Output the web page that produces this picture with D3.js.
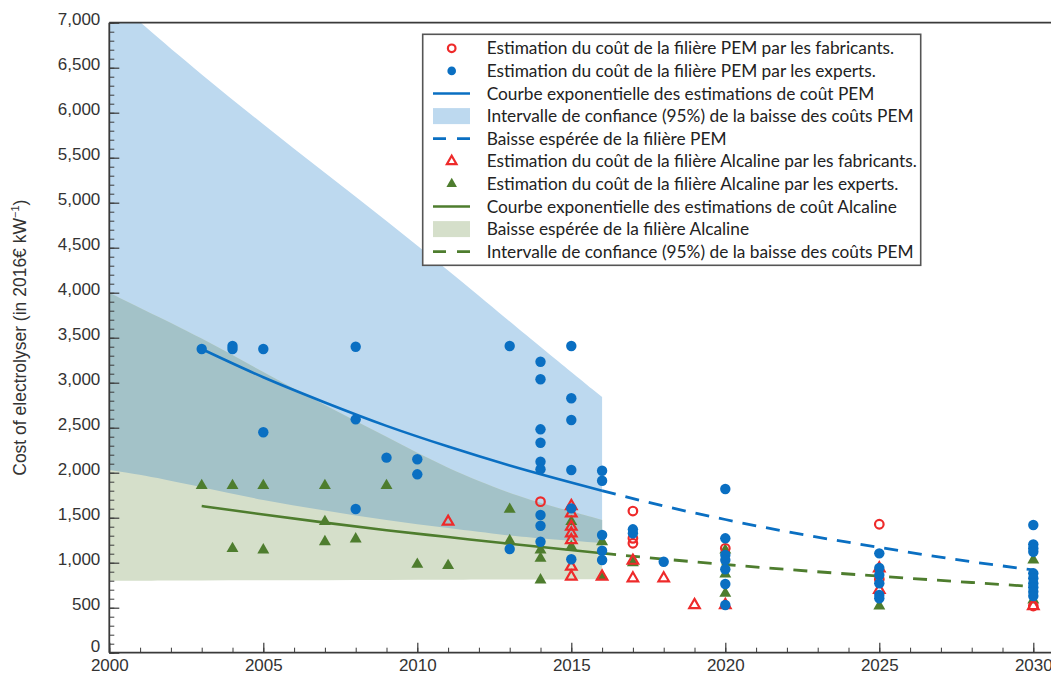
<!DOCTYPE html>
<html><head><meta charset="utf-8">
<script src="https://cdn.jsdelivr.net/npm/d3@7"></script>
<style>
html,body{margin:0;padding:0;background:#fff;}
svg{display:block;}
</style></head>
<body><svg id="c" width="1051" height="675"></svg>
<script>
// ---------- DATA ----------
const yTicks = [0,500,1000,1500,2000,2500,3000,3500,4000,4500,5000,5500,6000,6500,7000];
const xTicks = [2000,2005,2010,2015,2020,2025,2030];

// PEM, manufacturers' estimates (red open circles)
const pemManufacturers = [[2014,1678],[2017,1574],[2017,1271],[2017,1216],[2020,1160],[2025,1427],[2025,816],[2030,519]];
// PEM, experts' estimates (blue dots)
const pemExperts = [
  [2003,3374],[2004,3408],[2004,3374],[2005,3374],[2005,2449],
  [2008,3400],[2008,2593],[2008,1597],[2009,2167],[2010,2149],[2010,1982],
  [2013,3408],[2013,1152],
  [2014,3233],[2014,3038],[2014,2482],[2014,2333],[2014,2122],[2014,2038],[2014,1530],[2014,1411],[2014,1233],
  [2015,3408],[2015,2827],[2015,2586],[2015,2030],[2015,1604],[2015,1038],
  [2016,2022],[2016,1911],[2016,1308],[2016,1133],[2016,1030],
  [2017,1371],[2017,1327],[2018,1011],
  [2020,1819],[2020,1271],[2020,1086],[2020,1030],[2020,927],[2020,763],[2020,530],
  [2025,1104],[2025,941],[2025,863],[2025,771],[2025,641],[2025,604],
  [2030,1419],[2030,1204],[2030,1160],[2030,1122],[2030,882],[2030,827],[2030,771],[2030,727],[2030,678],[2030,630]
];
// Alkaline, manufacturers' estimates (red open triangles)
const alkManufacturers = [[2011,1456],[2015,1630],[2015,1549],[2015,1400],[2015,1327],[2015,1252],[2015,956],[2015,845],
  [2016,845],[2017,1022],[2017,827],[2018,827],[2019,530],[2020,530],[2025,938],[2025,697],[2030,519]];
// Alkaline, experts' estimates (green triangles)
const alkExperts = [[2003,1856],[2004,1856],[2004,1156],[2005,1856],[2005,1141],[2007,1856],[2007,1456],[2007,1233],
  [2008,1263],[2009,1856],[2010,982],[2011,967],[2013,1593],[2013,1244],[2014,1141],[2014,1049],[2014,808],
  [2015,1456],[2015,1178],[2016,1233],[2016,845],[2017,1000],[2020,1140],[2020,874],[2020,660],[2025,519],[2030,1030],[2030,586]];

// Fitted exponential curves
const pemFitYears   = [2003,2005,2007,2009,2011,2013,2016];
const pemFitCost    = [3374,3060,2780,2520,2290,2080,1800];
const pemTrendYears = [2016,2018,2020,2022,2025,2028,2030];
const pemTrendCost  = [1800,1630,1480,1345,1170,1010,920];
const alkFitYears   = [2003,2005,2007,2009,2011,2013,2016];
const alkFitCost    = [1630,1535,1445,1360,1285,1210,1105];
const alkTrendYears = [2016,2018,2020,2022,2025,2028,2030];
const alkTrendCost  = [1105,1040,980,925,850,780,735];

// Confidence bands 2000-2016
const bandYears   = [2000,2001,2003,2005,2007,2009,2011,2013,2014,2016];
const pemUpper    = [7320,7000,6420,5870,5330,4800,4250,3680,3400,2840];
const pemLower    = [2030,1980,1840,1690,1580,1470,1385,1300,1270,1220];
const alkUpper    = [4000,3830,3500,3115,2750,2400,2040,1770,1665,1475];
const alkLower    = [800,800,802,804,806,808,810,812,814,818];

const legendLabels = [
  "Estimation du coût de la filière PEM par les fabricants.",
  "Estimation du coût de la filière PEM par les experts.",
  "Courbe exponentielle des estimations de coût PEM",
  "Intervalle de confiance (95%) de la baisse des coûts PEM",
  "Baisse espérée de la filière PEM",
  "Estimation du coût de la filière Alcaline par les fabricants.",
  "Estimation du coût de la filière Alcaline par les experts.",
  "Courbe exponentielle des estimations de coût Alcaline",
  "Baisse espérée de la filière Alcaline",
  "Intervalle de confiance (95%) de la baisse des coûts PEM"
];

// ---------- STYLE ----------
const BLUE = "#0a6fc2", GREEN = "#4e7d2e", RED = "#ee2a2a";
const BAND_BLUE = "#bdd9ef", BAND_GREEN = "#d5dfca", BAND_TEAL = "#a3c2c8";
const AXIS = "#3a3a3a";

const svg = d3.select("#c");
const L = 109.3, R = 1064.1, T = 22.7, B = 652.7;
const x = d3.scaleLinear().domain([2000, 2031]).range([L, R]);
const y = d3.scaleLinear().domain([0, 7000]).range([B, T]);

svg.append("clipPath").attr("id","plot").append("rect")
  .attr("x", L).attr("y", T).attr("width", R - L).attr("height", B - T);
const plot = svg.append("g").attr("clip-path","url(#plot)");

// bands
const idx = bandYears.map((d,i)=>i);
const band = (lo, hi) => d3.area().x(i=>x(bandYears[i])).y0(i=>y(lo[i])).y1(i=>y(hi[i])).curve(d3.curveBasis);
plot.append("path").attr("d", band(pemLower, pemUpper)(idx)).attr("fill", BAND_BLUE);
plot.append("path").attr("d", band(alkLower, alkUpper)(idx)).attr("fill", BAND_GREEN);
plot.append("path").attr("d", band(pemLower, alkUpper)(idx)).attr("fill", BAND_TEAL);

// fit lines
const line = (ys, vs) => d3.line().x(i=>x(ys[i])).y(i=>y(vs[i])).curve(d3.curveMonotoneX)(ys.map((d,i)=>i));
plot.append("path").attr("d", line(pemFitYears, pemFitCost)).attr("fill","none").attr("stroke",BLUE).attr("stroke-width",2.6);
plot.append("path").attr("d", line(pemTrendYears, pemTrendCost)).attr("fill","none").attr("stroke",BLUE).attr("stroke-width",2.8).attr("stroke-dasharray","14,10");
plot.append("path").attr("d", line(alkFitYears, alkFitCost)).attr("fill","none").attr("stroke",GREEN).attr("stroke-width",2.6);
plot.append("path").attr("d", line(alkTrendYears, alkTrendCost)).attr("fill","none").attr("stroke",GREEN).attr("stroke-width",2.8).attr("stroke-dasharray","14,10");

// markers
const tri = d3.symbol().type(d3.symbolTriangle).size(62)();
const triO = d3.symbol().type(d3.symbolTriangle).size(48)();
plot.append("g").selectAll("path").data(alkExperts).join("path")
  .attr("d", tri).attr("transform", d=>`translate(${x(d[0])},${y(d[1])})`).attr("fill", GREEN);
plot.append("g").selectAll("path").data(alkManufacturers).join("path")
  .attr("d", triO).attr("transform", d=>`translate(${x(d[0])},${y(d[1])})`).attr("fill","none").attr("stroke",RED).attr("stroke-width",2.2);
plot.append("g").selectAll("circle").data(pemManufacturers).join("circle")
  .attr("cx", d=>x(d[0])).attr("cy", d=>y(d[1])).attr("r",4.3).attr("fill","none").attr("stroke",RED).attr("stroke-width",2.2);
plot.append("g").selectAll("circle").data(pemExperts).join("circle")
  .attr("cx", d=>x(d[0])).attr("cy", d=>y(d[1])).attr("r",5.2).attr("fill",BLUE);

// axes
const font = "'Liberation Sans', Arial, sans-serif";
const yMinor = d3.range(0, 7001, 100);
const xMinor = d3.range(2000, 2031, 1);
svg.append("g").attr("transform",`translate(${L},0)`)
  .call(d3.axisLeft(y).tickValues(yMinor).tickSize(-5).tickFormat(""))
  .call(g=>g.selectAll("line").attr("stroke",AXIS)).call(g=>g.select(".domain").remove());
svg.append("g").attr("transform",`translate(0,${B})`)
  .call(d3.axisBottom(x).tickValues(xMinor).tickSize(-5).tickFormat(""))
  .call(g=>g.selectAll("line").attr("stroke",AXIS)).call(g=>g.select(".domain").remove());
const ya = svg.append("g").attr("transform",`translate(${L},0)`)
  .call(d3.axisLeft(y).tickValues(yTicks).tickSize(-10).tickPadding(9).tickFormat(d3.format(",")));
const xa = svg.append("g").attr("transform",`translate(0,${B})`)
  .call(d3.axisBottom(x).tickValues(xTicks).tickSize(-10).tickPadding(6).tickFormat(d3.format("d")));
[ya, xa].forEach(g=>{
  g.selectAll("line").attr("stroke",AXIS).attr("stroke-width",1.2);
  g.select(".domain").remove();
  g.selectAll("text").attr("font-family",font).attr("font-size",17).attr("fill","#333");
});
ya.selectAll("text").attr("dy","0.1em");
ya.selectAll(".tick").filter(d=>d===0).select("text").attr("dy","-0.1em");
// frame lines
svg.append("line").attr("x1",L).attr("x2",L).attr("y1",T).attr("y2",B).attr("stroke",AXIS).attr("stroke-width",1.8);
svg.append("line").attr("x1",L).attr("x2",R).attr("y1",B).attr("y2",B).attr("stroke",AXIS).attr("stroke-width",1.8);
svg.append("line").attr("x1",L).attr("x2",R).attr("y1",T).attr("y2",T).attr("stroke",AXIS).attr("stroke-width",1.8);

// y title
const yt = svg.append("text").attr("transform",`translate(26,${(T+B)/2}) rotate(-90)`)
  .attr("text-anchor","middle").attr("font-family",font).attr("font-size",17.5).attr("fill","#333");
yt.append("tspan").text("Cost of electrolyser (in 2016€ kW");
yt.append("tspan").attr("dy",-7).attr("font-size",11).text("−1");
yt.append("tspan").attr("dy",7).text(")");

// legend
const lg = svg.append("g");
const lx = 422.7, ly = 34.3, lw = 498, lh = 231;
lg.append("rect").attr("x",lx).attr("y",ly).attr("width",lw).attr("height",lh)
  .attr("fill","#fff").attr("stroke","#555").attr("stroke-width",1.6);
const row0 = 48.3, dy = 22.6, sx = 451.7, tx = 486.7;
legendLabels.forEach((lab,i)=>{
  const cy = row0 + i*dy;
  const g = lg.append("g");
  if(i===0) g.append("circle").attr("cx",sx).attr("cy",cy).attr("r",3.8).attr("fill","none").attr("stroke",RED).attr("stroke-width",2.2);
  if(i===1) g.append("circle").attr("cx",sx).attr("cy",cy).attr("r",4.3).attr("fill",BLUE);
  if(i===2||i===7) g.append("line").attr("x1",433).attr("x2",470).attr("y1",cy).attr("y2",cy).attr("stroke",i===2?BLUE:GREEN).attr("stroke-width",2.6);
  if(i===3||i===8) g.append("rect").attr("x",433).attr("y",cy-8).attr("width",37).attr("height",16).attr("fill",i===3?BAND_BLUE:BAND_GREEN);
  if(i===4||i===9) g.append("line").attr("x1",433).attr("x2",470).attr("y1",cy).attr("y2",cy).attr("stroke",i===4?BLUE:GREEN).attr("stroke-width",2.8).attr("stroke-dasharray","13,11");
  if(i===5) g.append("path").attr("d",d3.symbol().type(d3.symbolTriangle).size(40)()).attr("transform",`translate(${sx},${cy})`).attr("fill","none").attr("stroke",RED).attr("stroke-width",2.2);
  if(i===6) g.append("path").attr("d",d3.symbol().type(d3.symbolTriangle).size(48)()).attr("transform",`translate(${sx},${cy})`).attr("fill",GREEN);
  g.append("text").attr("x",tx).attr("y",cy).attr("dy","0.35em").attr("font-family","Lato, 'Open Sans', sans-serif")
    .attr("font-size",17.3).attr("fill","#222").text(lab);
});
</script></body></html>
